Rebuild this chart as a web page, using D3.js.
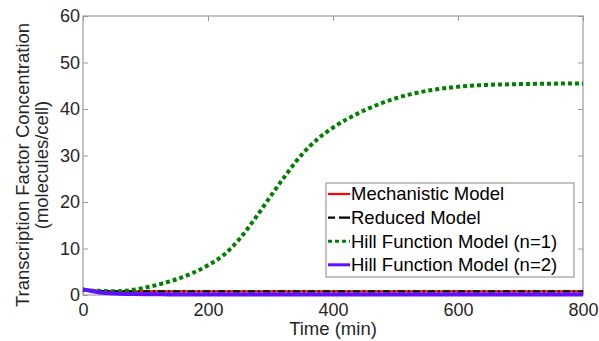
<!DOCTYPE html>
<html>
<head>
<meta charset="utf-8">
<script src="https://cdn.jsdelivr.net/npm/d3@7"></script>
<style>
  body { margin: 0; background: #fff; }
  text { font-family: "Liberation Sans", Arial, sans-serif; fill: #262626; }
</style>
</head>
<body>
<div id="chart"></div>
<script>
// time points (min) and model outputs (molecules/cell)
const time      = [0, 10, 25, 50, 75, 100, 125, 150, 175, 200, 225, 250, 275, 300, 325, 350, 375, 400, 425, 450, 475, 500, 525, 550, 575, 600, 650, 700, 750, 800];
const mechanistic = [1.2, 1.05, 0.9, 0.8, 0.78, 0.77, 0.77, 0.77, 0.77, 0.77, 0.77, 0.77, 0.77, 0.77, 0.77, 0.77, 0.77, 0.77, 0.77, 0.77, 0.77, 0.77, 0.77, 0.77, 0.77, 0.77, 0.77, 0.77, 0.77, 0.77];
const reduced     = [1.2, 1.05, 0.9, 0.8, 0.78, 0.77, 0.77, 0.77, 0.77, 0.77, 0.77, 0.77, 0.77, 0.77, 0.77, 0.77, 0.77, 0.77, 0.77, 0.77, 0.77, 0.77, 0.77, 0.77, 0.77, 0.77, 0.77, 0.77, 0.77, 0.77];
const hillN1      = [1.2, 1.0, 0.9, 0.8, 1.0, 1.6, 2.4, 3.4, 4.7, 6.4, 8.6, 12.0, 16.4, 21.2, 25.9, 30.2, 33.5, 36.0, 38.0, 39.7, 41.1, 42.3, 43.2, 43.9, 44.4, 44.8, 45.2, 45.35, 45.45, 45.5];
const hillN2      = [1.2, 0.95, 0.6, 0.3, 0.2, 0.15, 0.14, 0.13, 0.13, 0.13, 0.13, 0.13, 0.13, 0.13, 0.13, 0.13, 0.13, 0.13, 0.13, 0.13, 0.13, 0.13, 0.13, 0.13, 0.13, 0.13, 0.13, 0.13, 0.13, 0.13];

const xTicks = [0, 200, 400, 600, 800];
const yTicks = [0, 10, 20, 30, 40, 50, 60];
const seriesNames = ['Mechanistic Model', 'Reduced Model', 'Hill Function Model (n=1)', 'Hill Function Model (n=2)'];

const width = 599, height = 341;
const margin = {top: 16, right: 16, bottom: 46, left: 83};

const svg = d3.select('#chart').append('svg')
  .attr('width', width)
  .attr('height', height);

const x = d3.scaleLinear().domain([0, 800]).range([margin.left, width - margin.right]);
const y = d3.scaleLinear().domain([0, 60]).range([height - margin.bottom, margin.top]);

const series = [
  {name: seriesNames[0], values: mechanistic, color: '#ff0000', width: 2.2, dash: null},
  {name: seriesNames[1], values: reduced,     color: '#000000', width: 2.2, dash: '7,3,2,3'},
  {name: seriesNames[2], values: hillN1,      color: '#008000', width: 4,   dash: '4,3'},
  {name: seriesNames[3], values: hillN2,      color: '#5f11ff', width: 4,   dash: null}
];

const line = d3.line()
  .x(d => x(d[0]))
  .y(d => y(d[1]))
  .curve(d3.curveMonotoneX);

// axes (ticks pointing inward, MATLAB style)
const axisColor = '#9a9a9a';

svg.append('g')
  .attr('transform', `translate(0,${y(0)})`)
  .call(d3.axisBottom(x).tickValues(xTicks).tickSize(-5).tickPadding(8))
  .call(g => g.select('.domain').remove())
  .call(g => g.selectAll('text').style('font-size', '18px'));

svg.append('g')
  .attr('transform', `translate(${x(0)},0)`)
  .call(d3.axisLeft(y).tickValues(yTicks).tickSize(-5).tickPadding(3))
  .call(g => g.select('.domain').remove())
  .call(g => g.selectAll('text').style('font-size', '18px'));

svg.append('g')
  .attr('transform', `translate(0,${y(60)})`)
  .call(d3.axisTop(x).tickValues(xTicks).tickSize(-5).tickFormat(''))
  .call(g => g.select('.domain').remove());

svg.append('g')
  .attr('transform', `translate(${x(800)},0)`)
  .call(d3.axisRight(y).tickValues(yTicks).tickSize(-5).tickFormat(''))
  .call(g => g.select('.domain').remove());

svg.selectAll('.tick line').attr('stroke', axisColor);

svg.append('rect')
  .attr('x', x(0))
  .attr('y', y(60))
  .attr('width', x(800) - x(0))
  .attr('height', y(0) - y(60))
  .attr('fill', 'none')
  .attr('stroke', axisColor)
  .attr('stroke-width', 1.2);

// curves
series.forEach(s => {
  svg.append('path')
    .datum(time.map((t, i) => [t, s.values[i]]))
    .attr('d', line)
    .attr('fill', 'none')
    .attr('stroke', s.color)
    .attr('stroke-width', s.width)
    .attr('stroke-dasharray', s.dash);
});

// axis titles
svg.append('text')
  .attr('x', (x(0) + x(800)) / 2)
  .attr('y', 335)
  .attr('text-anchor', 'middle')
  .style('font-size', '18.5px')
  .text('Time (min)');

const yl = svg.append('text')
  .attr('transform', 'translate(0,165) rotate(-90)')
  .attr('text-anchor', 'middle')
  .style('font-size', '18.5px');
yl.append('tspan').attr('x', 0).attr('y', 29).text('Transcription Factor Concentration');
yl.append('tspan').attr('x', 0).attr('y', 47.5).text('(molecules/cell)');

// legend
const legend = svg.append('g').attr('transform', 'translate(326,183)');
legend.append('rect')
  .attr('width', 248)
  .attr('height', 94)
  .attr('fill', '#fff')
  .attr('stroke', axisColor)
  .attr('stroke-width', 1.2);

const item = legend.selectAll('.item')
  .data(series)
  .enter()
  .append('g')
  .classed('item', true)
  .attr('transform', (d, i) => `translate(0,${11 + i * 23.6})`);

item.append('line')
  .attr('x1', 2).attr('x2', 24)
  .attr('stroke', d => d.color)
  .attr('stroke-width', d => d.width > 3 ? 3 : 2.2)
  .attr('stroke-dasharray', d => d.dash === '7,3,2,3' ? '7,4,5,0' : d.dash);

item.append('text')
  .attr('x', 25)
  .attr('dy', '0.35em')
  .style('font-size', '18.5px')
  .style('fill', '#000')
  .text(d => d.name);
</script>
</body>
</html>
